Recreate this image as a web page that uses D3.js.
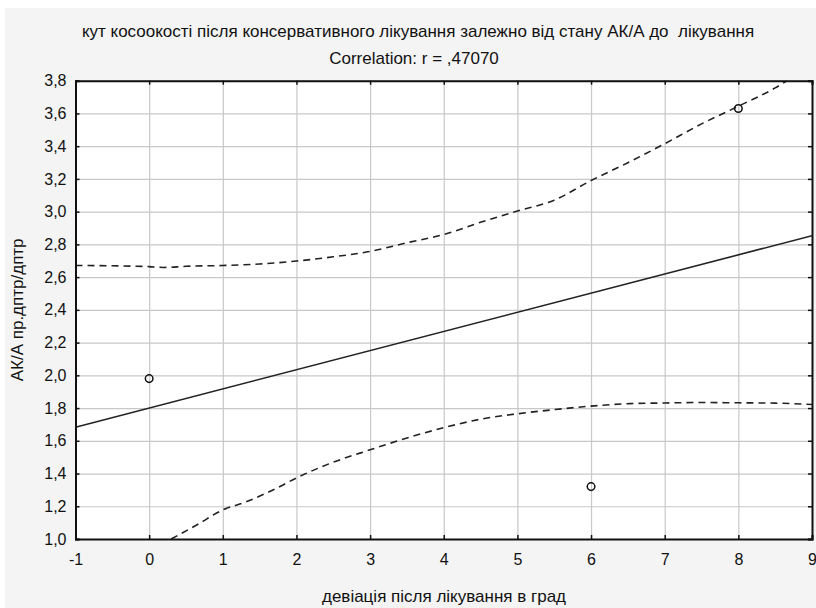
<!DOCTYPE html>
<html><head><meta charset="utf-8">
<script src="https://cdn.jsdelivr.net/npm/d3@7/dist/d3.min.js"></script>
<style>
body{margin:0;background:#fff}
text{font-family:"Liberation Sans",Arial,sans-serif;fill:#111}
</style>
</head><body><svg id="c" width="816" height="608"></svg>
<script>
const titleText = "кут косоокості після консервативного лікування залежно від стану АК/А до  лікування";
const subtitleText = "Correlation: r = ,47070";
const xAxisTitle = "девіація після лікування в град";
const yAxisTitle = "АК/А пр.дптр/дптр";
const xTicks = [-1, 0, 1, 2, 3, 4, 5, 6, 7, 8, 9];
const yTicks = [1.0, 1.2, 1.4, 1.6, 1.8, 2.0, 2.2, 2.4, 2.6, 2.8, 3.0, 3.2, 3.4, 3.6, 3.8];
const pointX = [0, 6, 8];
const pointY = [1.98, 1.32, 3.63];
const fitX = [-1, 9];
const fitY = [1.683, 2.853];
const upperX = [-1, -0.5, 0, 0.2, 0.5, 1, 1.5, 2, 2.5, 3, 3.5, 4, 4.5, 5, 5.5, 6, 6.5, 7, 7.5, 8, 8.5, 8.66];
const upperY = [2.671, 2.669, 2.664, 2.659, 2.666, 2.671, 2.68, 2.698, 2.724, 2.757, 2.81, 2.86, 2.935, 3.004, 3.07, 3.19, 3.299, 3.415, 3.536, 3.644, 3.756, 3.8];
const lowerX = [0.3, 0.67, 1, 1.3, 1.71, 2, 2.44, 3, 3.42, 4, 4.61, 5, 5.49, 6, 6.53, 7, 7.5, 8, 8.5, 9];
const lowerY = [1.0, 1.092, 1.178, 1.224, 1.306, 1.373, 1.459, 1.545, 1.606, 1.68, 1.741, 1.765, 1.79, 1.812, 1.827, 1.831, 1.834, 1.832, 1.83, 1.822];

const svg = d3.select("#c");
const L = 75.5, R = 812, T = 80.7, B = 539;
const loc = d3.formatLocale({decimal: ",", thousands: " ", grouping: [3], currency: ["", ""], minus: "-"});
const fy = loc.format(".1f"), fx = loc.format("d");

svg.append("rect").attr("x", 5).attr("y", 8).attr("width", 811).attr("height", 600).attr("fill", "#f4f4f4");

const x = d3.scaleLinear().domain([-1, 9]).range([L, R]);
const y = d3.scaleLinear().domain([1.0, 3.8]).range([B, T]);

svg.append("rect").attr("x", L).attr("y", T).attr("width", R - L).attr("height", B - T).attr("fill", "#fff");

// grid
const gx = svg.append("g").attr("transform", `translate(0,${B})`)
  .call(d3.axisBottom(x).tickValues(xTicks).tickSize(-(B - T)).tickFormat(""));
const gy = svg.append("g").attr("transform", `translate(${L},0)`)
  .call(d3.axisLeft(y).tickValues(yTicks).tickSize(-(R - L)).tickFormat(""));
[gx, gy].forEach(g => { g.select(".domain").remove(); g.selectAll("line").attr("stroke", "#c8c8c8").attr("stroke-width", 1.2); });

svg.append("defs").append("clipPath").attr("id", "clip").append("rect")
  .attr("x", L).attr("y", T).attr("width", R - L).attr("height", B - T);

const line = d3.line().x(d => x(d[0])).y(d => y(d[1])).curve(d3.curveMonotoneX);
const plot = svg.append("g").attr("clip-path", "url(#clip)");
plot.append("path").datum(upperX.map((v, i) => [v, upperY[i]])).attr("d", line)
  .attr("fill", "none").attr("stroke", "#222").attr("stroke-width", 1.6).attr("stroke-dasharray", "7,5");
plot.append("path").datum(lowerX.map((v, i) => [v, lowerY[i]])).attr("d", line)
  .attr("fill", "none").attr("stroke", "#222").attr("stroke-width", 1.6).attr("stroke-dasharray", "7,5");
plot.append("path").datum(fitX.map((v, i) => [v, fitY[i]])).attr("d", d3.line().x(d => x(d[0])).y(d => y(d[1])))
  .attr("fill", "none").attr("stroke", "#222").attr("stroke-width", 1.6);

svg.append("g").selectAll("circle").data(pointX.map((v, i) => [v, pointY[i]])).join("circle")
  .attr("cx", d => x(d[0])).attr("cy", d => y(d[1])).attr("r", 3.8)
  .attr("fill", "none").attr("stroke", "#111").attr("stroke-width", 1.5);

// axes with inward ticks
const ab = svg.append("g").attr("transform", `translate(0,${B})`)
  .call(d3.axisBottom(x).tickValues(xTicks).tickSize(-4).tickPadding(12).tickFormat(fx));
const al = svg.append("g").attr("transform", `translate(${L},0)`)
  .call(d3.axisLeft(y).tickValues(yTicks).tickSize(-4).tickPadding(9).tickFormat(fy));
const at = svg.append("g").attr("transform", `translate(0,${T})`)
  .call(d3.axisTop(x).tickValues(xTicks).tickSize(-4).tickFormat(""));
const ar = svg.append("g").attr("transform", `translate(${R},0)`)
  .call(d3.axisRight(y).tickValues(yTicks).tickSize(-4).tickFormat(""));
[ab, al, at, ar].forEach(g => {
  g.select(".domain").attr("stroke", "#111").attr("stroke-width", 2);
  g.selectAll(".tick line").attr("stroke", "#111").attr("stroke-width", 1.5);
  g.selectAll("text").attr("font-size", 16).attr("font-family", "Liberation Sans, Arial, sans-serif").attr("fill", "#111");
});
ab.selectAll("text").attr("dy", "0.85em");

svg.append("text").attr("x", 418).attr("y", 37).attr("text-anchor", "middle").attr("font-size", 17)
  .style("white-space", "pre").text(titleText);
svg.append("text").attr("x", 414).attr("y", 64).attr("text-anchor", "middle").attr("font-size", 17)
  .text(subtitleText);
svg.append("text").attr("x", 444).attr("y", 602).attr("text-anchor", "middle").attr("font-size", 17)
  .text(xAxisTitle);
svg.append("text").attr("transform", `translate(23,${(T + B) / 2}) rotate(-90)`).attr("text-anchor", "middle")
  .attr("font-size", 17).text(yAxisTitle);
</script></body></html>
